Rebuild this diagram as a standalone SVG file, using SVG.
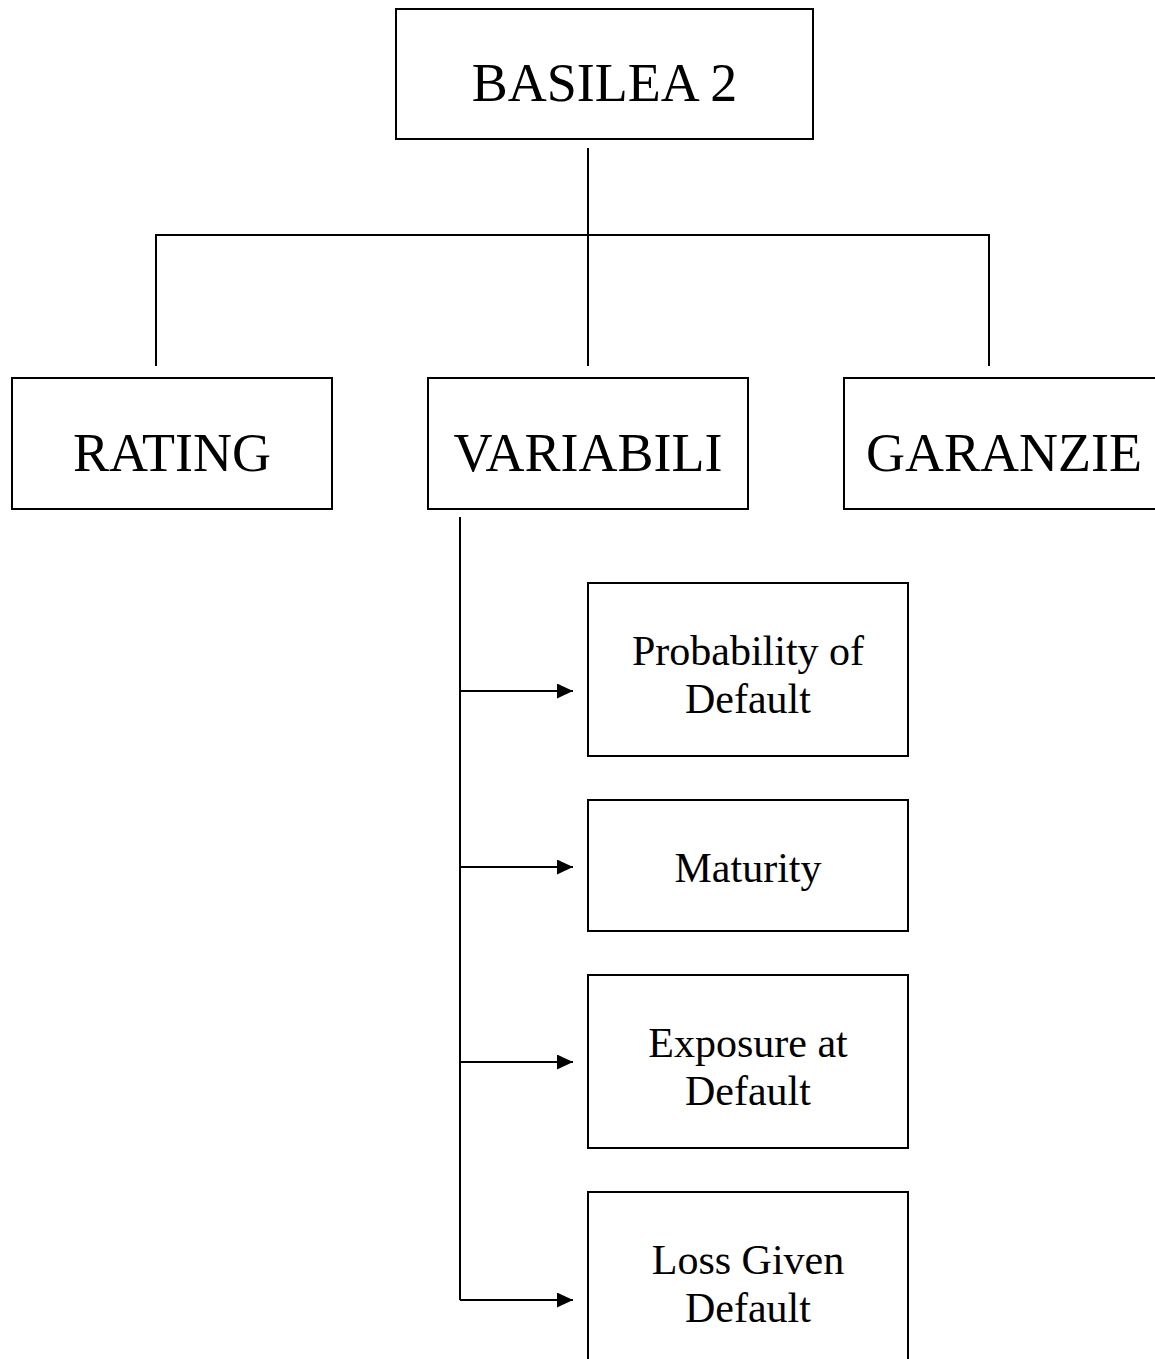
<svg xmlns="http://www.w3.org/2000/svg" width="1155" height="1359" viewBox="0 0 1155 1359">
<style>
.box{fill:#fff;stroke:#000;stroke-width:2}
.ln{fill:none;stroke:#000;stroke-width:2}
.big{font-family:"Liberation Serif","Times New Roman",serif;font-size:54px;fill:#000;text-anchor:middle}
.sm{font-family:"Liberation Serif","Times New Roman",serif;font-size:42px;fill:#000;text-anchor:middle}
</style>
<defs>
<marker id="ah" markerWidth="16" markerHeight="15" refX="16" refY="7.5" orient="auto" markerUnits="userSpaceOnUse">
<path d="M0,0 L16,7.5 L0,15 Z" fill="#000"/>
</marker>
</defs>
<rect width="1155" height="1359" fill="#fff"/>
<g id="connectors">
<line class="ln" x1="588" y1="148" x2="588" y2="366"/>
<polyline class="ln" points="156,366 156,235 989,235 989,366"/>
<line class="ln" x1="460" y1="517" x2="460" y2="1300"/>
<line class="ln" x1="460" y1="691" x2="573" y2="691" marker-end="url(#ah)"/>
<line class="ln" x1="460" y1="867" x2="573" y2="867" marker-end="url(#ah)"/>
<line class="ln" x1="460" y1="1062" x2="573" y2="1062" marker-end="url(#ah)"/>
<line class="ln" x1="460" y1="1300" x2="573" y2="1300" marker-end="url(#ah)"/>
</g>
<g id="basilea">
<rect class="box" x="396" y="9" width="417" height="130"/>
<text class="big" x="604.5" y="101">BASILEA 2</text>
</g>
<g id="rating">
<rect class="box" x="12" y="378" width="320" height="131"/>
<text class="big" x="172" y="471">RATING</text>
</g>
<g id="variabili">
<rect class="box" x="428" y="378" width="320" height="131"/>
<text class="big" x="588" y="471">VARIABILI</text>
</g>
<g id="garanzie">
<rect class="box" x="844" y="378" width="330" height="131"/>
<text class="big" x="1004" y="471">GARANZIE</text>
</g>
<g id="pd">
<rect class="box" x="588" y="583" width="320" height="173"/>
<text class="sm" x="748" y="665">Probability of</text>
<text class="sm" x="748" y="713">Default</text>
</g>
<g id="maturity">
<rect class="box" x="588" y="800" width="320" height="131"/>
<text class="sm" x="748" y="882">Maturity</text>
</g>
<g id="ead">
<rect class="box" x="588" y="975" width="320" height="173"/>
<text class="sm" x="748" y="1057">Exposure at</text>
<text class="sm" x="748" y="1105">Default</text>
</g>
<g id="lgd">
<rect class="box" x="588" y="1192" width="320" height="200"/>
<text class="sm" x="748" y="1274">Loss Given</text>
<text class="sm" x="748" y="1322">Default</text>
</g>
</svg>
